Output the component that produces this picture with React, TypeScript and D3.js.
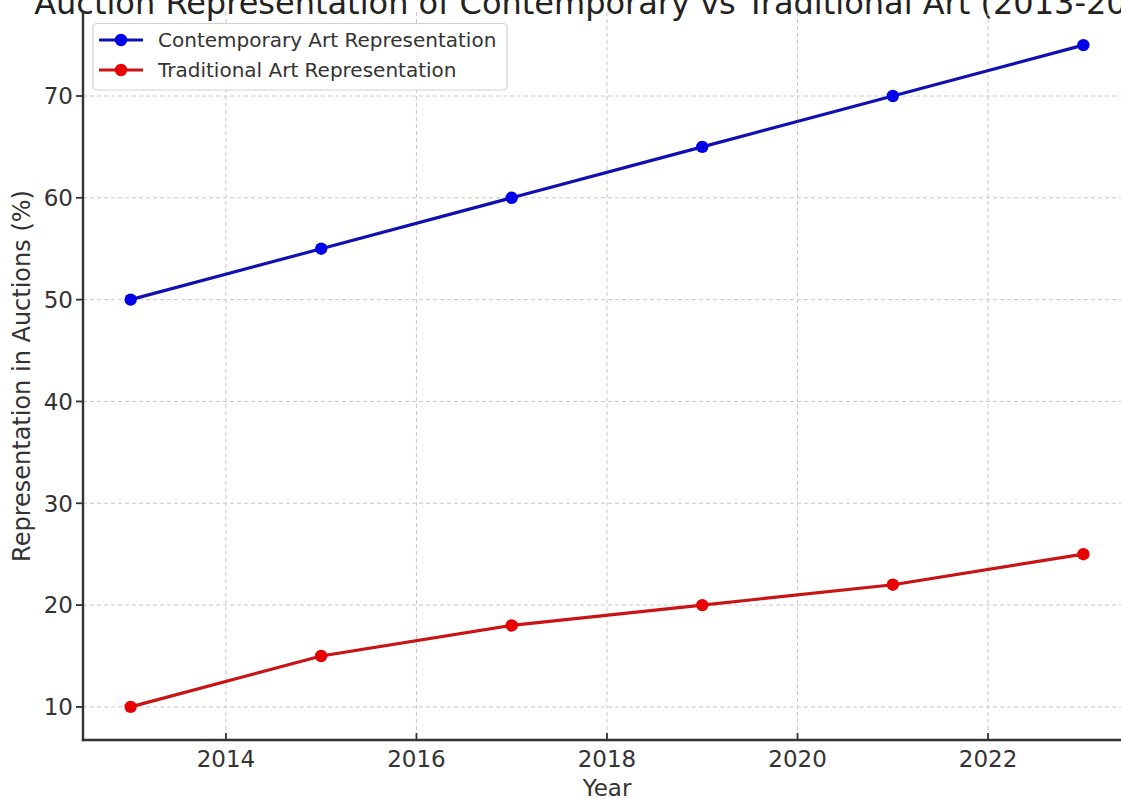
import React from "react";
import * as d3 from "d3";

const years = [2013, 2015, 2017, 2019, 2021, 2023];
const contemporary = [50, 55, 60, 65, 70, 75];
const traditional = [10, 15, 18, 20, 22, 25];
const xTicks = [2014, 2016, 2018, 2020, 2022];
const yTicks = [10, 20, 30, 40, 50, 60, 70];
const seriesNames = ["Contemporary Art Representation", "Traditional Art Representation"];
const title = "Auction Representation of Contemporary vs Traditional Art (2013-2023)";

const W = 1121;
const H = 799;
const FONT = "'DejaVu Sans', sans-serif";

export default function App() {
  const x = d3.scaleLinear().domain([2012.5, 2023.5]).range([83, 1131]);
  const y = d3.scaleLinear().domain([6.75, 78.25]).range([740, 12]);
  const line = d3
    .line<number>()
    .x((_, i) => x(years[i]))
    .y((d) => y(d));

  const series = [
    { name: seriesNames[0], values: contemporary, line: "#1010b0", marker: "#0000e8" },
    { name: seriesNames[1], values: traditional, line: "#c81414", marker: "#e80000" },
  ];

  const left = x.range()[0];
  const right = x.range()[1];
  const top = y.range()[1];
  const bottom = y.range()[0];

  return (
    <svg
      width={W}
      height={H}
      style={{ position: "absolute", left: 0, top: 0, background: "#fff" }}
      fontFamily={FONT}
    >
      <rect x={0} y={0} width={W} height={H} fill="#fff" />
      {/* title (cropped at the top in the reference) */}
      <text x={(left + right) / 2} y={14} textAnchor="middle" fontSize={32} fill="#222">
        {title}
      </text>
      {/* grid */}
      {xTicks.map((t) => (
        <line
          key={"gx" + t}
          x1={x(t)}
          x2={x(t)}
          y1={top}
          y2={bottom}
          stroke="#c8c8c8"
          strokeWidth={1}
          strokeDasharray="4,3"
        />
      ))}
      {yTicks.map((t) => (
        <line
          key={"gy" + t}
          x1={left}
          x2={right}
          y1={y(t)}
          y2={y(t)}
          stroke="#c8c8c8"
          strokeWidth={1}
          strokeDasharray="4,3"
        />
      ))}
      {/* lines */}
      {series.map((s) => (
        <g key={s.name}>
          <path d={line(s.values) || ""} fill="none" stroke={s.line} strokeWidth={3.2} />
          {s.values.map((v, i) => (
            <circle key={i} cx={x(years[i])} cy={y(v)} r={6.2} fill={s.marker} />
          ))}
        </g>
      ))}
      {/* spines */}
      <line x1={left} x2={left} y1={top} y2={bottom + 1.2} stroke="#333" strokeWidth={2.4} />
      <line x1={left - 1.2} x2={right} y1={bottom} y2={bottom} stroke="#333" strokeWidth={2.4} />
      {/* x ticks */}
      {xTicks.map((t) => (
        <g key={"xt" + t}>
          <line x1={x(t)} x2={x(t)} y1={bottom} y2={bottom - 7} stroke="#333" strokeWidth={1.8} />
          <text x={x(t)} y={767} textAnchor="middle" fontSize={23} fill="#333">
            {t}
          </text>
        </g>
      ))}
      {/* y ticks */}
      {yTicks.map((t) => (
        <g key={"yt" + t}>
          <line x1={left - 7} x2={left} y1={y(t)} y2={y(t)} stroke="#333" strokeWidth={1.8} />
          <text x={73} y={y(t)} dy="0.36em" textAnchor="end" fontSize={23} fill="#333">
            {t}
          </text>
        </g>
      ))}
      {/* axis labels */}
      <text x={(left + right) / 2 - 0} y={796} textAnchor="middle" fontSize={23} fill="#333">
        Year
      </text>
      <text
        transform={`translate(30, ${(top + bottom) / 2}) rotate(-90)`}
        textAnchor="middle"
        fontSize={24}
        fill="#333"
      >
        Representation in Auctions (%)
      </text>
      {/* legend */}
      <rect x={93} y={23.5} width={414} height={66.5} rx={4} fill="#fff" fillOpacity={0.85} stroke="#d0d0d0" strokeWidth={1.2} />
      {series.map((s, i) => {
        const ly = 40 + i * 30;
        return (
          <g key={"lg" + i}>
            <line x1={99} x2={143} y1={ly} y2={ly} stroke={s.line} strokeWidth={3.2} />
            <circle cx={121} cy={ly} r={6.2} fill={s.marker} />
            <text x={158} y={ly} dy="0.36em" fontSize={20} fill="#333">
              {s.name}
            </text>
          </g>
        );
      })}
    </svg>
  );
}
